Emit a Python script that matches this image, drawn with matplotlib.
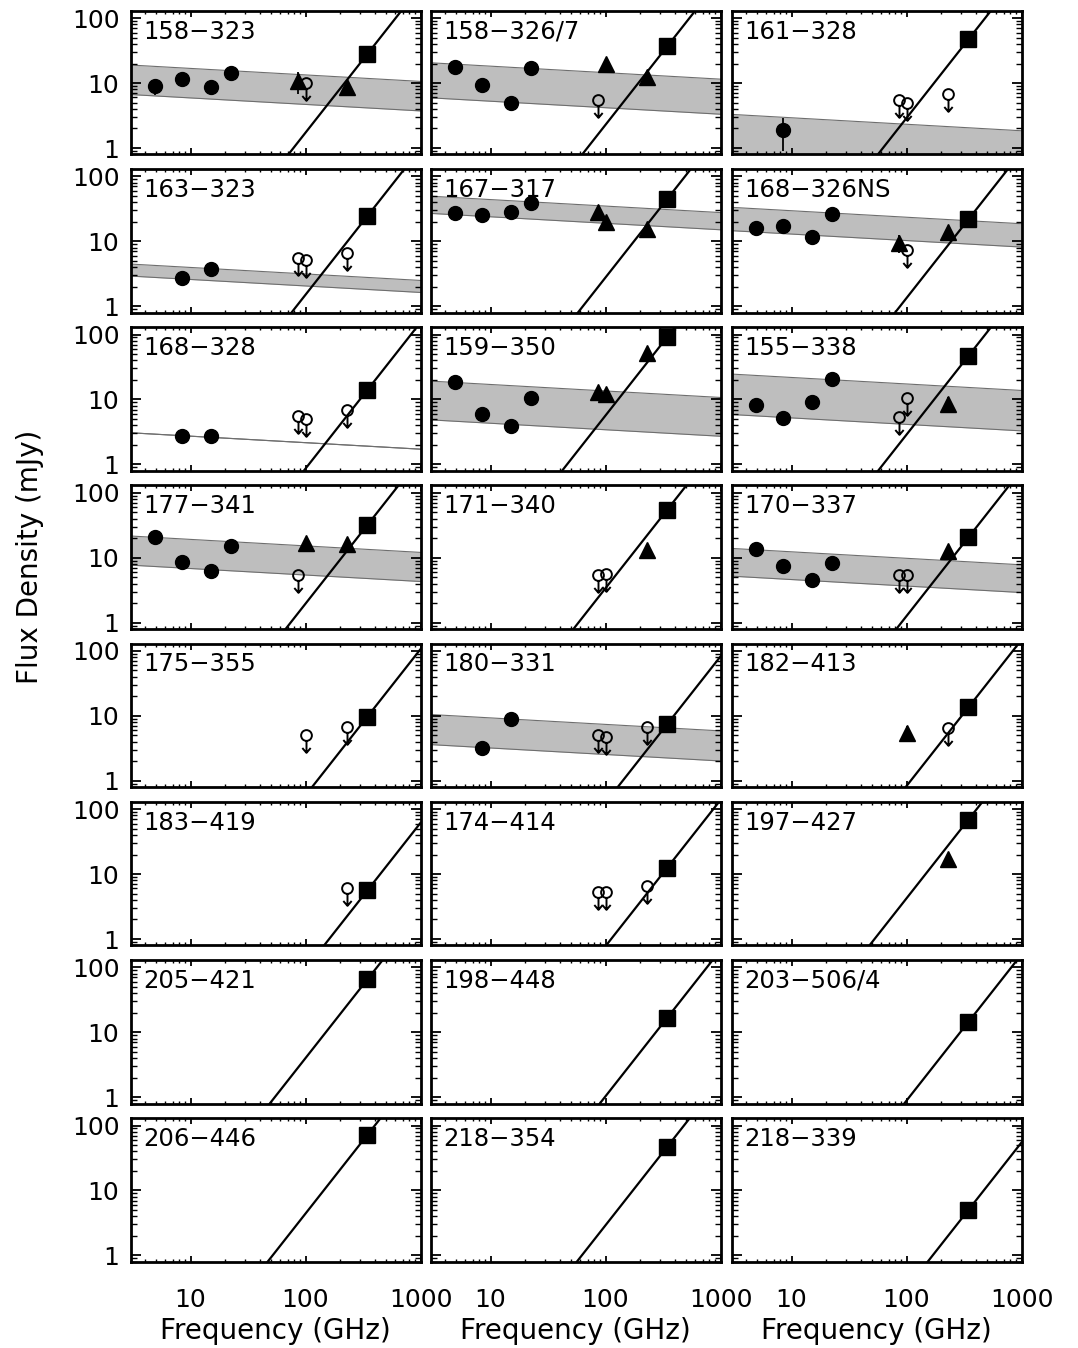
import numpy as np
import matplotlib
matplotlib.use('Agg')
import matplotlib.pyplot as plt
from matplotlib.path import Path
from matplotlib.ticker import LogLocator, FixedLocator, FixedFormatter, NullFormatter

plt.rcParams['font.family'] = ['DejaVu Sans']

# ---------------- data ----------------
names = ["158\u2212323", "158\u2212326/7", "161\u2212328",
         "163\u2212323", "167\u2212317", "168\u2212326NS",
         "168\u2212328", "159\u2212350", "155\u2212338",
         "177\u2212341", "171\u2212340", "170\u2212337",
         "175\u2212355", "180\u2212331", "182\u2212413",
         "183\u2212419", "174\u2212414", "197\u2212427",
         "205\u2212421", "198\u2212448", "203\u2212506/4",
         "206\u2212446", "218\u2212354", "218\u2212339"]

N = None
# centimetre points (filled circles), GHz
circle_freq = [4.9, 8.4, 15.0, 22.5]
circle_flux = [
    [9.0, 11.6, 8.6, 14.4], [17.5, 9.5, 5.0, 16.9], [N, 1.9, N, N],
    [N, 2.7, 3.7, N], [26.9, 25.4, 28.5, 39.0], [16.1, 17.1, 11.7, 25.9],
    [N, 2.7, 2.7, N], [18.3, 5.9, 3.9, 10.5], [8.2, 5.2, 9.0, 20.4],
    [21.0, 8.6, 6.3, 15.1], [N, N, N, N], [13.4, 7.4, 4.5, 8.2],
    [N, N, N, N], [N, 3.2, 8.8, N], [N, N, N, N],
    [N, N, N, N], [N, N, N, N], [N, N, N, N],
    [N, N, N, N], [N, N, N, N], [N, N, N, N],
    [N, N, N, N], [N, N, N, N], [N, N, N, N]]
circle_err = [
    [2.5, 0, 0, 0], [0, 0, 0, 0], [0, 1.0, 0, 0],
    [0, 0, 0, 0], [0, 0, 0, 0], [0, 0, 0, 0],
    [0, 0, 0, 0], [0, 0, 0, 0], [2.0, 0, 0, 0],
    [0, 0, 0, 0], [0, 0, 0, 0], [0, 0, 0, 0],
    [0, 0, 0, 0], [0, 0, 0, 0], [0, 0, 0, 0],
    [0, 0, 0, 0], [0, 0, 0, 0], [0, 0, 0, 0],
    [0, 0, 0, 0], [0, 0, 0, 0], [0, 0, 0, 0],
    [0, 0, 0, 0], [0, 0, 0, 0], [0, 0, 0, 0]]

# millimetre detections (filled triangles)
tri_freq = [86.0, 100.0, 230.0]
tri_flux = [
    [10.7, N, 8.7], [N, 19.6, 12.5], [N, N, N],
    [N, N, N], [28.5, 20.0, 15.2], [9.5, N, 13.7],
    [N, N, N], [13.2, 12.1, 51.0], [N, N, 8.6],
    [N, 17.0, 16.2], [N, N, 13.1], [N, N, 12.6],
    [N, N, N], [N, N, N], [N, 5.5, N],
    [N, N, N], [N, N, N], [N, N, 17.3],
    [N, N, N], [N, N, N], [N, N, N],
    [N, N, N], [N, N, N], [N, N, N]]
tri_err = [
    [4.0, 0, 1.5], [0, 0, 0], [0, 0, 0],
    [0, 0, 0], [4.0, 0, 0], [3.0, 0, 0],
    [0, 0, 0], [3.0, 3.0, 0], [0, 0, 2.5],
    [0, 0, 0], [0, 0, 0], [0, 0, 2.0],
    [0, 0, 0], [0, 0, 0], [0, 1.5, 0],
    [0, 0, 0], [0, 0, 0], [0, 0, 0],
    [0, 0, 0], [0, 0, 0], [0, 0, 0],
    [0, 0, 0], [0, 0, 0], [0, 0, 0]]

# upper limits (open circles with arrows)
ul_freq = [86.0, 100.0, 230.0]
ul_flux = [
    [N, 9.9, N], [5.5, N, N], [5.5, 5.0, 6.7],
    [5.5, 5.1, 6.7], [N, N, N], [N, 7.3, N],
    [5.5, 5.0, 6.9], [N, N, N], [5.4, 10.6, N],
    [5.4, N, N], [5.4, 5.6, N], [5.4, 5.4, N],
    [N, 5.1, 6.8], [5.1, 4.8, 6.7], [N, N, 6.4],
    [N, N, 6.0], [5.3, 5.2, 6.5], [N, N, N],
    [N, N, N], [N, N, N], [N, N, N],
    [N, N, N], [N, N, N], [N, N, N]]

# sub-mm points (filled squares)
square_freq = 345.0
square_flux = [28.0, 37.0, 47.0, 24.4, 45.0, 21.7,
               14.0, 92.0, 46.7, 31.8, 55.0, 20.5,
               9.7, 7.5, 13.5, 5.6, 12.6, 68.7,
               65.0, 16.8, 14.4, 71.6, 47.3, 5.0]

# free-free band: flux at 10 GHz (upper and lower edge)
ff_hi_10 = [16.8, 18.2, 2.92, 3.95, 43.8, 29.5, 2.72, 17.0, 21.8, 19.1, N, 12.3,
            N, 9.3, N, N, N, N, N, N, N, N, N, N]
ff_lo_10 = [5.9, 5.25, 0.5, 2.58, 23.8, 12.9, 2.72, 4.3, 5.2, 6.8, N, 4.6,
            N, 3.2, N, N, N, N, N, N, N, N, N, N]
ff_index = -0.1
dust_index = 2.25

x_range = [3.0, 1000.0]
y_range = [0.8, 130.0]
x_ticks = [10, 100, 1000]
x_ticklabels = ["10", "100", "1000"]
y_ticks = [1, 10, 100]
y_ticklabels = ["1", "10", "100"]

# ---------------- figure ----------------
W, H = 1078, 1348
fig = plt.figure(figsize=(W / 100, H / 100), dpi=100)

col_left = [130.5, 430.5, 731.5]
ax_w = 290.0
row_top0 = 10.7
row_step = 158.2
ax_h = 143.6

# upper-limit marker: circle with downward arrow
r = 0.31
uc = Path.unit_circle()
circ_path = Path(uc.vertices * r, uc.codes)
arrow_path = Path([(0, -r), (0, -1.0), (-0.24, -0.72), (0, -1.0), (0.24, -0.72)],
                  [Path.MOVETO, Path.LINETO, Path.MOVETO, Path.LINETO, Path.LINETO])
ul_marker = Path.make_compound_path(circ_path, arrow_path)

xx = np.geomspace(x_range[0], x_range[1], 200)

for i, name in enumerate(names):
    row, col = divmod(i, 3)
    top = row_top0 + row * row_step
    ax = fig.add_axes([col_left[col] / W, 1 - (top + ax_h) / H, ax_w / W, ax_h / H])
    ax.set_xscale('log')
    ax.set_yscale('log')
    ax.set_xlim(*x_range)
    ax.set_ylim(*y_range)

    # free-free band
    if ff_hi_10[i] is not None:
        hi = ff_hi_10[i] * (xx / 10.0) ** ff_index
        lo = ff_lo_10[i] * (xx / 10.0) ** ff_index
        ax.fill_between(xx, lo, hi, color='#bebebe', lw=0, zorder=1)
        ax.plot(xx, hi, color='#6e6e6e', lw=0.8, zorder=1.5)
        ax.plot(xx, lo, color='#6e6e6e', lw=0.8, zorder=1.5)

    # dust line through the square
    ax.plot(xx, square_flux[i] * (xx / square_freq) ** dust_index,
            color='k', lw=1.6, zorder=2)

    # circles
    cf = [f for f, v in zip(circle_freq, circle_flux[i]) if v is not None]
    cv = [v for v in circle_flux[i] if v is not None]
    ce = [e for e, v in zip(circle_err[i], circle_flux[i]) if v is not None]
    if cv:
        ax.errorbar(cf, cv, yerr=ce, fmt='none', ecolor='k', elinewidth=1.3, zorder=3)
        ax.plot(cf, cv, 'o', color='k', ms=10, zorder=4)

    # triangles
    tf = [f for f, v in zip(tri_freq, tri_flux[i]) if v is not None]
    tv = [v for v in tri_flux[i] if v is not None]
    te = [e for e, v in zip(tri_err[i], tri_flux[i]) if v is not None]
    if tv:
        ax.errorbar(tf, tv, yerr=te, fmt='none', ecolor='k', elinewidth=1.3, zorder=3)
        ax.plot(tf, tv, '^', color='k', ms=11.5, zorder=4)

    # upper limits
    uf = [f for f, v in zip(ul_freq, ul_flux[i]) if v is not None]
    uv = [v for v in ul_flux[i] if v is not None]
    if uv:
        ax.plot(uf, uv, linestyle='none', marker=ul_marker, ms=25,
                mfc='none', mec='k', mew=1.4, zorder=4)

    # square
    ax.plot([square_freq], [square_flux[i]], 's', color='k', ms=12, zorder=5)

    ax.text(0.045, 0.855, name, transform=ax.transAxes, fontsize=17.5,
            ha='left', va='center', zorder=6)

    # axes styling
    for sp in ax.spines.values():
        sp.set_linewidth(2.0)
    ax.xaxis.set_major_locator(FixedLocator(x_ticks))
    ax.yaxis.set_major_locator(FixedLocator(y_ticks))
    ax.xaxis.set_minor_locator(LogLocator(base=10, subs=np.arange(2, 10)))
    ax.yaxis.set_minor_locator(LogLocator(base=10, subs=np.arange(2, 10)))
    ax.xaxis.set_minor_formatter(NullFormatter())
    ax.yaxis.set_minor_formatter(NullFormatter())
    ax.tick_params(which='both', direction='in', top=True, right=True)
    ax.tick_params(axis='y', which='major', length=7, width=1.3, labelsize=18, pad=8)
    ax.tick_params(axis='y', which='minor', length=4, width=1.0)
    ax.tick_params(axis='x', which='major', length=4, width=1.3, labelsize=18, pad=19)
    ax.tick_params(axis='x', which='minor', length=2.5, width=1.0)
    if row == 7:
        ax.xaxis.set_major_formatter(FixedFormatter(x_ticklabels))
    else:
        ax.xaxis.set_major_formatter(NullFormatter())
    if col == 0:
        ax.yaxis.set_major_formatter(FixedFormatter(y_ticklabels))
    else:
        ax.yaxis.set_major_formatter(NullFormatter())

for c in range(3):
    fig.text((col_left[c] + ax_w / 2) / W, 1 - 1331 / H, 'Frequency (GHz)',
             ha='center', va='center', fontsize=20)
fig.text(30 / W, 1 - 557 / H, 'Flux Density (mJy)', rotation=90,
         ha='center', va='center', fontsize=20)

fig.savefig('out.png', dpi=100)
